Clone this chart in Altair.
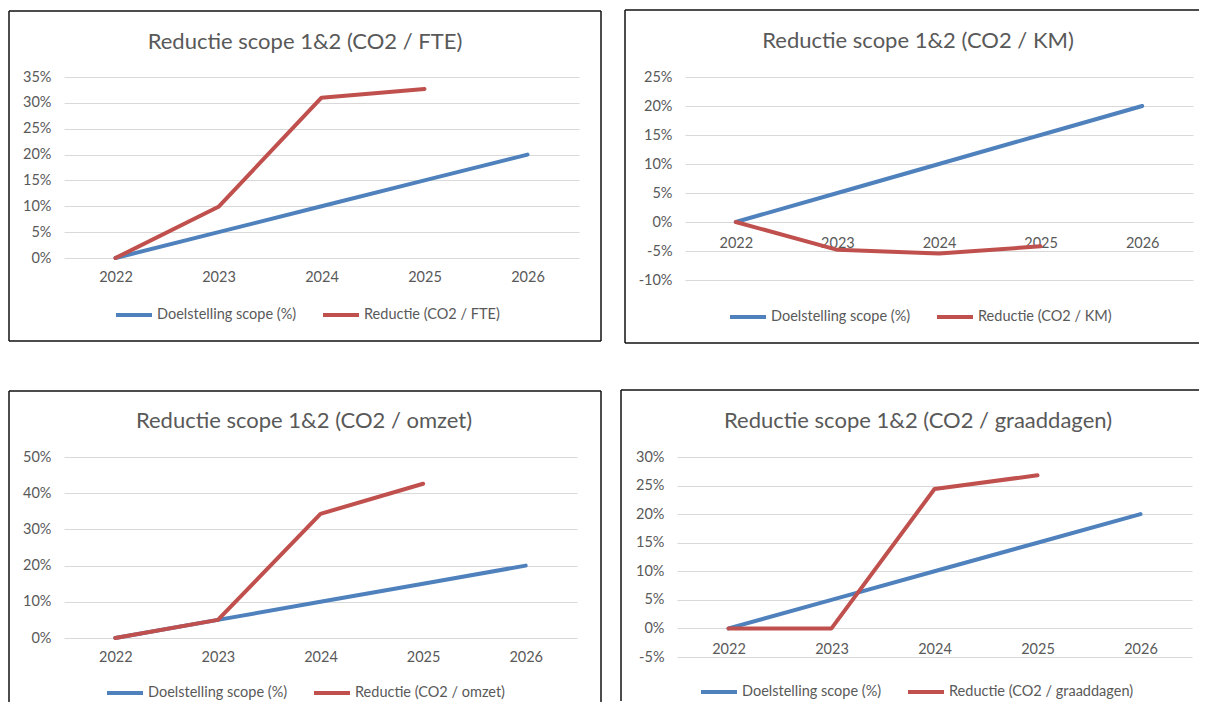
import altair as alt
import pandas as pd

# ---------------- data ----------------
years = ["2022", "2023", "2024", "2025", "2026"]
target = [0.0, 0.05, 0.10, 0.15, 0.20]
target_label = "Doelstelling scope (%)"

titles = [
    "Reductie scope 1&2 (CO2 / FTE)",
    "Reductie scope 1&2 (CO2 / KM)",
    "Reductie scope 1&2 (CO2 / omzet)",
    "Reductie scope 1&2 (CO2 / graaddagen)",
]
red_labels = [
    "Reductie (CO2 / FTE)",
    "Reductie (CO2 / KM)",
    "Reductie (CO2 / omzet)",
    "Reductie (CO2 / graaddagen)",
]
red_years = ["2022", "2023", "2024", "2025"]
red_fte = [0.0, 0.099, 0.310, 0.327]
red_km = [0.0, -0.048, -0.0545, -0.042]
red_omzet = [0.0, 0.050, 0.343, 0.426]
red_gd = [0.0, 0.0, 0.244, 0.268]
red_values = [red_fte, red_km, red_omzet, red_gd]

y_ticks = [
    [0.0, 0.05, 0.10, 0.15, 0.20, 0.25, 0.30, 0.35],
    [-0.10, -0.05, 0.0, 0.05, 0.10, 0.15, 0.20, 0.25],
    [0.0, 0.10, 0.20, 0.30, 0.40, 0.50],
    [-0.05, 0.0, 0.05, 0.10, 0.15, 0.20, 0.25, 0.30],
]

# ---------------- style / layout ----------------
BLUE = "#4F81BD"
RED = "#C0504D"
TEXT = "#595959"
GRID = "#D9D9D9"
FONT = "Lato"
SMALL = 14.5
TITLE_SIZE = 22

# per panel: plot size, frame edges (relative to plot), title pos, legend pos, edges drawn
layout = [
    dict(w=515, h=181, fl=-55, ft=-66, fr=537, fb=264, tx=241, ty=-35, lx=50, ly=218, lp=12,
         edges=("l", "t", "r", "b")),
    dict(w=508, h=203, fl=-60, ft=-67, fr=514, fb=266, tx=233, ty=-36, lx=43, ly=220, lp=14,
         edges=("l", "t", "b")),
    dict(w=513, h=181, fl=-55, ft=-66, fr=537, fb=245, tx=240, ty=-36, lx=41, ly=216, lp=12,
         edges=("l", "t", "r")),
    dict(w=515, h=200, fl=-56, ft=-67, fr=522, fb=244, tx=241, ty=-36, lx=22, ly=215, lp=14,
         edges=("l", "t")),
]


def panel(i):
    L = layout[i]
    rows = [{"year": y, "series": target_label, "value": v} for y, v in zip(years, target)]
    rows += [{"year": y, "series": red_labels[i], "value": v} for y, v in zip(red_years, red_values[i])]
    df = pd.DataFrame(rows)
    ticks = y_ticks[i]
    ymin, ymax = ticks[0], ticks[-1]
    x_offset = -L["h"] * (0 - ymin) / (ymax - ymin)

    lines = alt.Chart(df).mark_line(strokeWidth=4, strokeCap="round", strokeJoin="round").encode(
        x=alt.X("year:O", scale=alt.Scale(type="point", padding=0.5),
                axis=alt.Axis(title=None, domain=False, ticks=False, grid=False, labelAngle=0,
                              labelPadding=L["lp"], labelColor=TEXT, labelFontSize=SMALL,
                              labelFont=FONT, offset=x_offset)),
        y=alt.Y("value:Q", scale=alt.Scale(domain=[ymin, ymax], nice=False, zero=False),
                axis=alt.Axis(title=None, values=ticks, domain=False, ticks=False, grid=True,
                              gridColor=GRID, gridWidth=1, labelColor=TEXT, labelFontSize=SMALL,
                              labelFont=FONT, labelPadding=13,
                              labelExpr="round(datum.value*100) + '%'")),
        color=alt.Color("series:N",
                        scale=alt.Scale(domain=[target_label, red_labels[i]], range=[BLUE, RED]),
                        legend=alt.Legend(title=None, orient="none", direction="horizontal",
                                          legendX=L["lx"], legendY=L["ly"], symbolType="stroke",
                                          symbolSize=1296, symbolStrokeWidth=4, labelFontSize=SMALL,
                                          labelFont=FONT, labelColor=TEXT, labelOffset=3,
                                          labelLimit=400, columnPadding=18, padding=0)),
        detail="series:N",
    )

    one = pd.DataFrame({"t": [titles[i]]})
    title = alt.Chart(one).mark_text(font=FONT, fontSize=TITLE_SIZE, color=TEXT, align="center",
                                     baseline="middle").encode(
        x=alt.value(L["tx"]), y=alt.value(L["ty"]), text="t:N")

    edge_layers = []
    base = alt.Chart(pd.DataFrame({"k": [0]}))
    for e in L["edges"]:
        if e == "l":
            enc = dict(x=alt.value(L["fl"]), y=alt.value(L["ft"]), y2=alt.value(L["fb"]))
        elif e == "r":
            enc = dict(x=alt.value(L["fr"]), y=alt.value(L["ft"]), y2=alt.value(L["fb"]))
        elif e == "t":
            enc = dict(x=alt.value(L["fl"]), x2=alt.value(L["fr"]), y=alt.value(L["ft"]))
        else:
            enc = dict(x=alt.value(L["fl"]), x2=alt.value(L["fr"]), y=alt.value(L["fb"]))
        edge_layers.append(base.mark_rule(color="#111111", strokeWidth=1.5).encode(**enc))

    return alt.layer(*edge_layers, title, lines).properties(width=L["w"], height=L["h"])


row1 = alt.hconcat(panel(0), panel(1), spacing=22).resolve_scale(color="independent").resolve_legend(color="independent")
row2 = alt.hconcat(panel(2), panel(3), spacing=18).resolve_scale(color="independent").resolve_legend(color="independent")

chart = alt.vconcat(row1, row2, spacing=45).resolve_scale(color="independent").resolve_legend(
    color="independent").properties(
    padding={"left": 0, "top": 1, "right": 0, "bottom": 0}, background="white"
).configure_view(stroke=None)

chart.save("out.html", embed_options={"renderer": "svg", "actions": False})
